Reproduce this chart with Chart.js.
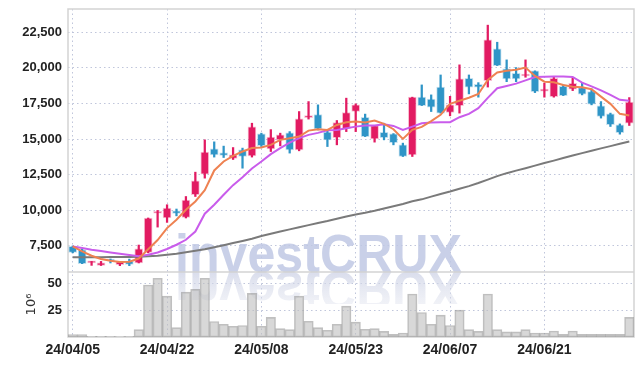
<!DOCTYPE html>
<html><head><meta charset="utf-8">
<script src="https://cdn.jsdelivr.net/npm/chart.js@4.4.1/dist/chart.umd.min.js"></script>
<style>html,body{margin:0;padding:0;background:#fff;}#wrap{width:642px;height:366px;}</style>
</head><body><div id="wrap"><canvas id="c" width="642" height="366"></canvas></div>
<script>
const dates = ['24/04/05','24/04/08','24/04/09','24/04/11','24/04/12','24/04/15','24/04/16','24/04/17','24/04/18','24/04/19',
'24/04/22','24/04/23','24/04/24','24/04/25','24/04/26','24/04/29','24/04/30','24/05/02','24/05/03','24/05/07',
'24/05/08','24/05/09','24/05/10','24/05/13','24/05/14','24/05/16','24/05/17','24/05/20','24/05/21','24/05/22',
'24/05/23','24/05/24','24/05/27','24/05/28','24/05/29','24/05/30','24/05/31','24/06/03','24/06/04','24/06/05',
'24/06/07','24/06/10','24/06/11','24/06/12','24/06/13','24/06/14','24/06/17','24/06/18','24/06/19','24/06/20',
'24/06/21','24/06/24','24/06/25','24/06/26','24/06/27','24/06/28','24/07/01','24/07/02','24/07/03','24/07/04'];
const tickLabels = ['24/04/05','24/04/22','24/05/08','24/05/23','24/06/07','24/06/21'];
const open = [7450,7220,6300,6120,6460,6170,6420,6290,7030,9780,
9450,9960,9490,11080,12530,14310,14030,13630,14240,13820,
15360,14310,14940,15430,14240,16500,16720,15480,15100,15730,
16930,16530,15010,15470,15360,14590,13890,17940,17800,18640,
16860,17350,19270,18850,19100,21330,19930,19620,19430,19790,
18360,17980,18700,18500,18610,18330,17330,16770,16000,16110];
const high = [7480,7250,6400,6400,6570,6390,6560,7550,9450,9980,
10380,10080,10960,12670,14940,14800,14500,14400,14360,16110,
15410,15660,15410,15520,16930,17630,17400,15640,16300,17870,
17470,16750,15950,16110,15380,14710,17940,18800,18100,19500,
18000,20210,19500,18960,23000,21800,20560,20020,20560,19790,
18920,19340,18800,19270,18920,18520,17630,16820,16060,17910];
const low = [7000,6240,6120,6110,6290,6100,6100,6290,7000,8810,
9140,9600,9450,10960,12250,13730,13700,13560,12950,13730,
14470,14120,14520,14010,14170,16400,15640,14470,14590,15520,
15520,15170,14780,14940,14590,13770,13770,17350,16930,16820,
16630,16820,18170,17940,18650,20160,19030,19030,19340,18260,
17940,17940,18050,18400,18100,17400,16470,15880,15340,15950];
const close = [7030,6240,6330,6300,6430,6380,6190,7290,9450,9810,
10150,9770,10710,12060,14080,13890,13840,13890,13770,15850,
14540,15130,15290,14240,16420,16550,15710,14940,16160,16860,
17400,15170,15950,15100,14750,13770,17940,17350,17240,16820,
17400,19220,18640,18640,21960,20160,19220,19220,19570,18330,
18420,19270,18050,18920,18150,17450,16580,16000,15450,17590];
const ma5 = [7450,7100,6800,6570,6450,6360,6380,6600,7250,7900,
8740,9330,10030,10610,11400,12790,13420,13820,14120,14360,
14400,14590,14940,15060,15170,15590,15690,15640,15990,16180,
16230,16160,16300,16060,15690,15010,15640,15850,16260,16700,
17470,17690,17900,18160,19150,19680,19790,19860,20020,19430,
19030,18990,18800,18680,18640,18500,17980,17470,16770,16650];
const ma10 = [7450,7340,7220,7130,7030,6940,6850,6760,6870,7030,
7270,7570,7920,8500,9750,10380,11080,11760,12320,12930,
13420,13940,14360,14750,15060,15290,15430,15610,15640,15750,
15870,15950,15950,16040,15920,15640,15870,16110,16160,16180,
16180,16530,16770,17170,17890,18570,18730,18890,19120,19350,
19380,19390,19390,19360,18960,18700,18420,18100,17750,17680];
const ma60 = [6690,6690,6700,6700,6710,6710,6710,6730,6760,6800,
6870,6940,7040,7150,7250,7390,7540,7690,7840,7990,
8180,8340,8500,8650,8800,8950,9100,9240,9400,9550,
9700,9820,9960,10120,10280,10430,10620,10760,10950,11140,
11310,11500,11690,11910,12150,12390,12600,12780,12950,13130,
13310,13480,13660,13840,14010,14180,14340,14500,14660,14820];
const volume = [2.2,2.2,0.7,0.7,0.6,0.3,0.6,6.9,48.4,54.7,
38.1,8.8,41.8,44.4,54.7,14.4,11.9,10.0,10.7,40.6,
10.0,18.2,7.8,6.9,38.1,14.7,8.8,6.3,11.9,28.7,
13.8,7.2,7.8,5.3,2.5,3.7,40.0,22.8,11.9,20.3,
10.7,25.0,6.9,5.3,40.0,6.9,4.7,4.7,6.9,3.7,
3.7,5.6,2.5,5.6,2.5,2.5,2.5,2.5,2.5,18.2];
const priceTicks = [7500,10000,12500,15000,17500,20000,22500];
const volumeTicks = [25,50];

const RED = '#E21B62', BLUE = '#2F95C7';
const isUp = close.map((c,i)=>c>=open[i]);
const candleColor = isUp.map(u=>u?RED:BLUE);
const haloColor = isUp.map(u=>u?'rgba(226,27,98,0.28)':'rgba(47,149,199,0.28)');
const bodyData = open.map((o,i)=>[Math.min(o,close[i]),Math.max(o,close[i])]);
const wickData = low.map((l,i)=>[l,high[i]]);

const FONT = "'Liberation Sans',Arial,sans-serif";
const GRID = 'rgba(185,192,215,0.9)';

const watermark = {
  id:'watermark',
  beforeDatasetsDraw(chart){
    const {ctx, chartArea:a} = chart;
    const base = chart.scales.y.bottom;
    ctx.save();
    ctx.font = "bold 54px 'Liberation Sans',Arial,sans-serif";
    const t = 'investCRUX';
    const w = ctx.measureText(t).width;
    const sx = (a.width*0.507)/w;
    const cx = a.left + a.width*0.4426;
    ctx.save();
    ctx.beginPath(); ctx.rect(a.left, a.top, a.width, base-a.top); ctx.clip();
    ctx.translate(cx, base); ctx.scale(sx,1);
    ctx.textAlign='center'; ctx.textBaseline='alphabetic';
    ctx.fillStyle='rgba(192,200,228,0.85)';
    ctx.fillText(t,0,0);
    ctx.restore();
    ctx.save();
    ctx.beginPath(); ctx.rect(a.left, base, a.width, 32); ctx.clip();
    ctx.translate(cx, base); ctx.scale(sx,-1);
    ctx.textAlign='center'; ctx.textBaseline='alphabetic';
    const g = ctx.createLinearGradient(0,0,0,-40);
    g.addColorStop(0,'rgba(205,210,230,0.75)');
    g.addColorStop(1,'rgba(225,228,238,0.35)');
    ctx.fillStyle=g;
    ctx.fillText(t,0,0);
    ctx.restore();
    ctx.restore();
  }
};
const frame = {
  id:'frame',
  beforeDatasetsDraw(chart){
    const {ctx, chartArea:a} = chart;
    ctx.save();
    ctx.strokeStyle='#d3d3d3'; ctx.lineWidth=1.5;
    ctx.strokeRect(a.left, a.top, a.right-a.left, a.bottom-a.top);
    ctx.beginPath(); ctx.moveTo(a.left, chart.scales.y.bottom); ctx.lineTo(a.right, chart.scales.y.bottom); ctx.stroke();
    ctx.restore();
  }
};
const fitY = s=>{ s.width=68; s.paddingTop=0; s.paddingBottom=0; };

new Chart(document.getElementById('c'), {
  type:'bar',
  data:{
    labels: dates,
    datasets:[
      {type:'line', data: ma5, yAxisID:'y', borderColor:'#EE8252', borderWidth:2, pointRadius:0, tension:0, order:0},
      {type:'line', data: ma10, yAxisID:'y', borderColor:'#C95CEB', borderWidth:2, pointRadius:0, tension:0, order:0},
      {type:'line', data: ma60, yAxisID:'y', borderColor:'#7A7A7A', borderWidth:2, pointRadius:0, tension:0, order:0},
      {type:'bar', data: bodyData, yAxisID:'y', backgroundColor: candleColor, borderColor: haloColor, borderWidth:1, borderSkipped:false, barThickness:8, minBarLength:2, grouped:false, order:1},
      {type:'bar', data: wickData, yAxisID:'y', backgroundColor: candleColor, borderWidth:0, barThickness:1.6, grouped:false, order:2},
      {type:'bar', data: volume, yAxisID:'y2', backgroundColor:'rgba(190,190,190,0.6)', borderColor:'rgba(140,140,140,0.55)', borderWidth:1, borderSkipped:false, barPercentage:1, categoryPercentage:1, grouped:false, order:3}
    ]
  },
  options:{
    responsive:false, animation:false, devicePixelRatio:1,
    layout:{padding:{top:9,right:8,left:0,bottom:0}},
    plugins:{legend:{display:false}, tooltip:{enabled:false}},
    scales:{
      x:{type:'category', offset:true,
        grid:{offset:false, color:GRID, drawTicks:false, lineWidth:1},
        border:{display:false, dash:[1.5,3]},
        ticks:{autoSkip:false, maxRotation:0, padding:5, color:'#222', font:{family:FONT, size:14, weight:'bold'},
          callback:(v,i)=> tickLabels.includes(dates[i]) ? dates[i] : null},
        afterFit:s=>{s.height=29;}
      },
      y2:{type:'linear', position:'left', stack:'p', stackWeight:65, min:0, max:60.5,
        grid:{color:GRID, drawTicks:false}, border:{display:false, dash:[1.5,3]},
        title:{display:true, text:'10\u2076', color:'#333', font:{family:"'DejaVu Sans',sans-serif", size:13}, padding:{top:24,bottom:0}},
        afterBuildTicks:s=>{ s.ticks = volumeTicks.map(v=>({value:v})); },
        ticks:{autoSkip:false, padding:6, color:'#222', font:{family:FONT, size:13, weight:'bold'},
          callback:v=> String(v)},
        afterFit:fitY
      },
      y:{type:'linear', position:'left', stack:'p', stackWeight:263, min:5655, max:24135,
        grid:{color:GRID, drawTicks:false}, border:{display:false, dash:[1.5,3]},
        afterBuildTicks:s=>{ s.ticks = priceTicks.map(v=>({value:v})); },
        ticks:{autoSkip:false, padding:6, color:'#222', font:{family:FONT, size:13, weight:'bold'},
          callback:v=> v.toLocaleString('en-US')},
        afterFit:fitY
      }
    }
  },
  plugins:[watermark, frame]
});
</script>
</body></html>
